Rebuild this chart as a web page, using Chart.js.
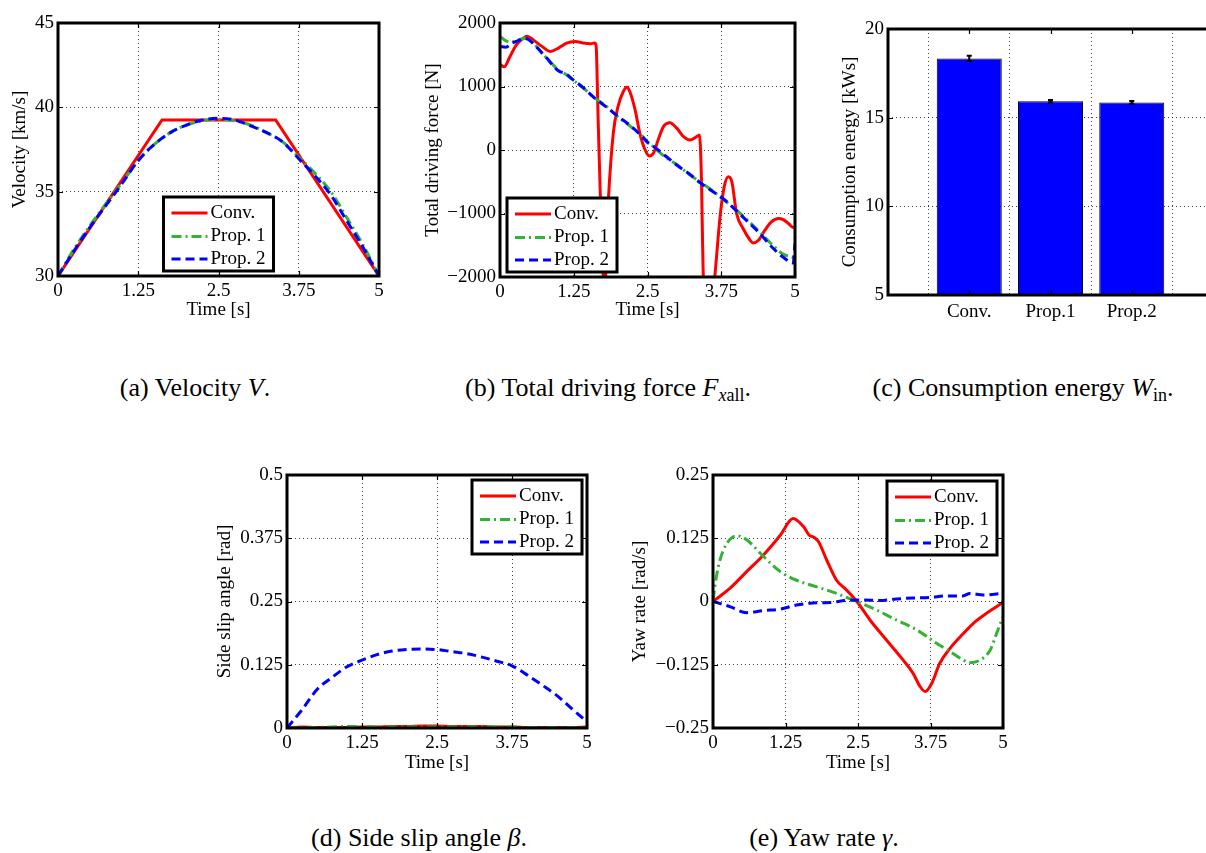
<!DOCTYPE html>
<html>
<head>
<meta charset="utf-8">
<script src="https://cdn.jsdelivr.net/npm/chart.js@4.4.1/dist/chart.umd.min.js"></script>
<style>
  html, body { margin: 0; padding: 0; width: 1206px; height: 853px; overflow: hidden; background: #fff; }
  canvas { position: absolute; }
  .cap { position: absolute; font-family: "Liberation Serif", serif; font-size: 26px; color: #000;
         white-space: nowrap; transform: translate(-50%, -50%); line-height: 1; }
  .cap sub { font-size: 18px; vertical-align: -5px; line-height: 0; }
  .cap i { font-style: italic; }
</style>
</head>
<body>
<div class="cap" style="left:195px; top:388px;">(a) Velocity <i>V</i>.</div>
<div class="cap" style="left:608px; top:388px;">(b) Total driving force <i>F</i><sub><i>x</i>all</sub>.</div>
<div class="cap" style="left:1023px; top:388px;">(c) Consumption energy <i>W</i><sub>in</sub>.</div>
<div class="cap" style="left:419px; top:838px;">(d) Side slip angle <i>β</i>.</div>
<div class="cap" style="left:824px; top:838px;">(e) Yaw rate <i>γ</i>.</div>

<script>
// ---------- shared ----------
const timeTicks = [0, 1.25, 2.5, 3.75, 5];
const seriesNames = ['Conv.', 'Prop. 1', 'Prop. 2'];

// ---------- (a) velocity ----------
const velTicks = [30, 35, 40, 45];
const velTimeConv = [0, 1.62, 3.39, 5];
const velConv = [30, 39.25, 39.25, 30];
const velTimeProp = [0, 0.25, 0.5, 0.75, 1, 1.25, 1.5, 1.75, 2, 2.25, 2.5, 2.75, 3, 3.25, 3.5, 3.75, 4, 4.25, 4.5, 4.75, 5];
const velProp1 = [30, 31.6, 33.0, 34.3, 35.55, 36.85, 37.8, 38.5, 38.95, 39.2, 39.3, 39.2, 38.95, 38.5, 37.95, 37.05, 36.1, 35.0, 33.45, 31.85, 30.0];
const velProp2 = [30, 31.5, 32.9, 34.2, 35.5, 36.85, 37.8, 38.5, 38.95, 39.25, 39.35, 39.25, 38.9, 38.5, 37.95, 36.95, 35.95, 34.8, 33.25, 31.7, 30.0];

// ---------- (b) total driving force ----------
const forceTicks = [-2000, -1000, 0, 1000, 2000];
const forceTimeConv = [0, 0.07, 0.17, 0.28, 0.4, 0.46, 0.56, 0.71, 0.85, 0.99, 1.13, 1.27, 1.41, 1.53, 1.61, 1.63, 1.66, 1.7, 1.77, 1.84,
  1.92, 2.0, 2.09, 2.15, 2.2, 2.29, 2.37, 2.46, 2.53, 2.6, 2.68, 2.77, 2.88, 3.0, 3.11, 3.22, 3.35, 3.38, 3.41, 3.45,
  3.55, 3.64, 3.73, 3.8, 3.87, 3.93, 4.01, 4.12, 4.24, 4.29, 4.38, 4.49, 4.6, 4.72, 4.8, 4.89, 4.97, 5.0];
const forceConv = [1350, 1310, 1474, 1658, 1763, 1790, 1737, 1632, 1553, 1605, 1684, 1710, 1684, 1674, 1684, 1632, 600, -700, -2200, -737,
  263, 684, 921, 990, 921, 632, 263, 0, -95, -53, 158, 368, 430, 340, 210, 158, 220, 237, -300, -2100,
  -2700, -2000, -1050, -580, -421, -500, -1000, -1237, -1421, -1463, -1421, -1263, -1132, -1079, -1095, -1158, -1221, -1221];
const forceTimeProp = [0, 0.1, 0.2, 0.3, 0.42, 0.5, 0.6, 0.7, 0.8, 0.9, 1.0, 1.1, 1.24, 1.4, 1.6, 1.8, 2.0, 2.2, 2.4, 2.5,
  2.6, 2.8, 3.0, 3.2, 3.4, 3.6, 3.8, 4.0, 4.2, 4.4, 4.6, 4.8, 4.97, 5.0];
const forceProp1 = [1790, 1720, 1700, 1730, 1755, 1735, 1650, 1545, 1435, 1340, 1250, 1200, 1100, 985, 825, 690, 520, 380, 230, 130,
  50, -110, -230, -380, -510, -640, -790, -940, -1110, -1290, -1480, -1640, -1690, -1700];
const forceProp2 = [1632, 1620, 1680, 1720, 1760, 1730, 1640, 1540, 1440, 1330, 1240, 1210, 1105, 990, 820, 680, 530, 390, 220, 120,
  60, -90, -240, -370, -520, -650, -780, -950, -1130, -1310, -1520, -1690, -1780, -1470];

// ---------- (c) consumption energy ----------
const energyCats = ['Conv.', 'Prop.1', 'Prop.2'];
const energyVals = [18.34, 15.92, 15.86];
const energyErr = [0.15, 0.07, 0.08];
const energyTicks = [5, 10, 15, 20];

// ---------- (d) side slip angle ----------
const slipTicks = [0, 0.125, 0.25, 0.375, 0.5];
const slipTime = [0, 0.25, 0.5, 0.75, 1.0, 1.25, 1.5, 1.75, 2.0, 2.25, 2.5, 2.75, 3.0, 3.25, 3.5, 3.75, 4.0, 4.25, 4.5, 4.75, 5.0];
const slipConv = [0, 0.002, 0.001, 0.001, 0.001, 0.002, 0.002, 0.003, 0.003, 0.004, 0.004, 0.003, 0.003, 0.003, 0.002, 0.002, 0.001, 0.001, 0.001, 0.001, 0.002];
const slipProp1 = [0, 0.001, 0.001, 0.002, 0.003, 0.003, 0.002, 0.002, 0.002, 0.002, 0.002, 0.002, 0.002, 0.002, 0.002, 0.002, 0.001, 0.001, 0.001, 0.001, 0.001];
const slipProp2 = [0, 0.036, 0.076, 0.1, 0.121, 0.134, 0.145, 0.152, 0.155, 0.156, 0.155, 0.151, 0.147, 0.14, 0.132, 0.123, 0.105, 0.085, 0.064, 0.038, 0.012];

// ---------- (e) yaw rate ----------
const yawTicks = [-0.25, -0.125, 0, 0.125, 0.25];
const yawTimeConv = [0, 0.29, 0.58, 0.87, 1.16, 1.38, 1.56, 1.66, 1.74, 1.82, 1.96, 2.13, 2.3, 2.48, 2.71, 2.99, 3.28, 3.45, 3.57, 3.66,
  3.77, 3.91, 4.09, 4.26, 4.49, 4.72, 5.0];
const yawConv = [0, 0.026, 0.059, 0.092, 0.131, 0.164, 0.148, 0.131, 0.127, 0.118, 0.082, 0.042, 0.023, 0, -0.037, -0.076, -0.116, -0.142, -0.168, -0.178,
  -0.162, -0.122, -0.092, -0.07, -0.043, -0.023, -0.002];
const yawTimeProp1 = [0, 0.06, 0.12, 0.24, 0.41, 0.58, 0.87, 1.16, 1.44, 1.79, 2.13, 2.48, 2.82, 3.17, 3.51, 3.86, 4.09, 4.32, 4.43, 4.6,
  4.78, 4.89, 5.0];
const yawProp1 = [0.002, 0.05, 0.082, 0.115, 0.13, 0.122, 0.089, 0.059, 0.042, 0.029, 0.016, 0, -0.017, -0.037, -0.056, -0.083, -0.099, -0.116, -0.121, -0.116,
  -0.096, -0.063, -0.03];
const yawTimeProp2 = [0, 0.29, 0.58, 0.87, 1.16, 1.44, 1.72, 2.01, 2.3, 2.59, 2.87, 3.16, 3.45, 3.74, 4.03, 4.31, 4.43, 4.66, 5.0];
const yawProp2 = [0, -0.01, -0.022, -0.018, -0.015, -0.007, -0.003, -0.002, 0.002, 0.003, 0.002, 0.005, 0.007, 0.008, 0.011, 0.011, 0.016, 0.013, 0.016];

// ---------- styling ----------
const FONT = { family: '"Liberation Serif", serif', size: 19 };
const GRID = 'rgba(0,0,0,0.75)';
const STYLES = [
  { color: '#ff0000', dash: [] },
  { color: '#33b333', dash: [10, 4, 2, 4] },
  { color: '#0000ff', dash: [9, 5] }
];

function fmt(v) { return String(v).replace('-', '\u2212'); }
function pts(t, v) { return t.map((x, i) => ({ x: x, y: v[i] })); }

function geometry(g) {
  const left = g.yTitleX - 20;
  const top = g.top;
  const width = g.R + 12 - left;
  const height = Math.round(g.xTitleY ? g.xTitleY + 11.4 : g.B + g.xh) - top;
  return { left, top, width, height, yW: g.L - left, xH: height - (g.B - top), padTop: g.T - top };
}

function makeCanvas(geo) {
  const c = document.createElement('canvas');
  c.width = geo.width; c.height = geo.height;
  c.style.left = geo.left + 'px'; c.style.top = geo.top + 'px';
  c.style.width = geo.width + 'px'; c.style.height = geo.height + 'px';
  document.body.appendChild(c);
  return c;
}

// box around the axes with small inward tick marks
const framePlugin = {
  id: 'frame',
  afterDatasetsDraw(chart) {
    const { ctx, chartArea: a, scales } = chart;
    ctx.save();
    ctx.strokeStyle = '#000';
    ctx.setLineDash([]);
    ctx.lineWidth = 1.2;
    const tl = 5;
    ctx.beginPath();
    scales.x.ticks.forEach(t => {
      const p = Math.round(scales.x.getPixelForValue(t.value)) + 0.5;
      ctx.moveTo(p, a.bottom); ctx.lineTo(p, a.bottom - tl);
      ctx.moveTo(p, a.top); ctx.lineTo(p, a.top + tl);
    });
    scales.y.ticks.forEach(t => {
      const p = Math.round(scales.y.getPixelForValue(t.value)) + 0.5;
      ctx.moveTo(a.left, p); ctx.lineTo(a.left + tl, p);
      ctx.moveTo(a.right, p); ctx.lineTo(a.right - tl, p);
    });
    ctx.stroke();
    ctx.lineWidth = 3;
    ctx.strokeRect(a.left, a.top, a.right - a.left, a.bottom - a.top);
    ctx.restore();
  }
};

// framed legend placed inside the plot area
const boxLegendPlugin = {
  id: 'boxLegend',
  afterDraw(chart, args, opts) {
    if (!opts || !opts.anchor) return;
    const { ctx, chartArea: a } = chart;
    const w = 110, h = 74;
    let x, y;
    if (opts.anchor === 'bottom-center') { x = (a.left + a.right) / 2 - w / 2; y = a.bottom - opts.dy - h; }
    else if (opts.anchor === 'bottom-left') { x = a.left + opts.dx; y = a.bottom - opts.dy - h; }
    else { x = a.right - opts.dx - w; y = a.top + opts.dy; }
    ctx.save();
    ctx.fillStyle = '#fff';
    ctx.fillRect(x, y, w, h);
    ctx.lineWidth = 3;
    ctx.strokeStyle = '#000';
    ctx.setLineDash([]);
    ctx.strokeRect(x, y, w, h);
    const rows = [16, 39.5, 62];
    chart.data.datasets.forEach((ds, i) => {
      const ry = y + rows[i];
      ctx.beginPath();
      ctx.strokeStyle = ds.borderColor;
      ctx.lineWidth = ds.borderWidth;
      ctx.setLineDash(ds.borderDash || []);
      ctx.moveTo(x + 8, ry); ctx.lineTo(x + 44, ry);
      ctx.stroke();
      ctx.setLineDash([]);
      ctx.fillStyle = '#000';
      ctx.font = FONT.size + 'px ' + FONT.family;
      ctx.textBaseline = 'middle';
      ctx.textAlign = 'left';
      ctx.fillText(ds.label, x + 47, ry);
    });
    ctx.restore();
  }
};

function axisBase() {
  return {
    grid: { color: GRID, lineWidth: 1, drawTicks: false },
    border: { display: false, dash: [1, 3] },
    ticks: { font: FONT, color: '#000', padding: 4, autoSkip: false, maxRotation: 0, callback: v => fmt(v) }
  };
}

function makeLinePanel(g, cfg) {
  const geo = geometry(g);
  const canvas = makeCanvas(geo);
  const datasets = cfg.series.map((s, i) => ({
    label: seriesNames[i],
    data: pts(s.t, s.v),
    borderColor: STYLES[i].color,
    borderDash: STYLES[i].dash,
    borderWidth: 3,
    pointRadius: 0,
    fill: false,
    tension: 0,
    cubicInterpolationMode: s.smooth ? 'monotone' : 'default',
    order: 3 - i
  }));
  const xb = axisBase(), yb = axisBase();
  return new Chart(canvas, {
    type: 'line',
    data: { datasets },
    plugins: [framePlugin, boxLegendPlugin],
    options: {
      responsive: false, animation: false, devicePixelRatio: 1,
      layout: { padding: { top: geo.padTop, right: 12, bottom: 0, left: 0 } },
      plugins: { legend: { display: false }, tooltip: { enabled: false }, boxLegend: cfg.legend },
      scales: {
        x: Object.assign(xb, {
          type: 'linear', min: 0, max: 5,
          afterBuildTicks: s => { s.ticks = timeTicks.map(v => ({ value: v })); },
          afterFit: s => { s.height = geo.xH; },
          title: { display: true, text: 'Time [s]', font: FONT, color: '#000', padding: { top: 0, bottom: 0 } }
        }),
        y: Object.assign(yb, {
          type: 'linear', min: cfg.yTicks[0], max: cfg.yTicks[cfg.yTicks.length - 1],
          afterBuildTicks: s => { s.ticks = cfg.yTicks.map(v => ({ value: v })); },
          afterFit: s => { s.width = geo.yW; },
          title: { display: true, text: cfg.yTitle, font: FONT, color: '#000', padding: { top: 8.6, bottom: 0 } }
        })
      }
    }
  });
}

// (a)
makeLinePanel({ L: 58, T: 23, R: 379, B: 276, yTitleX: 20, xTitleY: 310, top: 0 }, {
  yTicks: velTicks, yTitle: 'Velocity [km/s]',
  series: [
    { t: velTimeConv, v: velConv, smooth: false },
    { t: velTimeProp, v: velProp1, smooth: true },
    { t: velTimeProp, v: velProp2, smooth: true }
  ],
  legend: { anchor: 'bottom-center', dy: 5 }
});

// (b)
makeLinePanel({ L: 500, T: 23, R: 795, B: 277, yTitleX: 433, xTitleY: 310, top: 0 }, {
  yTicks: forceTicks, yTitle: 'Total driving force [N]',
  series: [
    { t: forceTimeConv, v: forceConv, smooth: true },
    { t: forceTimeProp, v: forceProp1, smooth: true },
    { t: forceTimeProp, v: forceProp2, smooth: true }
  ],
  legend: { anchor: 'bottom-left', dx: 7, dy: 5 }
});

// (d)
makeLinePanel({ L: 287, T: 475, R: 587, B: 728, yTitleX: 225, xTitleY: 763, top: 450 }, {
  yTicks: slipTicks, yTitle: 'Side slip angle [rad]',
  series: [
    { t: slipTime, v: slipConv, smooth: true },
    { t: slipTime, v: slipProp1, smooth: true },
    { t: slipTime, v: slipProp2, smooth: true }
  ],
  legend: { anchor: 'top-right', dx: 5, dy: 5 }
});

// (e)
makeLinePanel({ L: 713, T: 475, R: 1003, B: 728, yTitleX: 640, xTitleY: 763, top: 450 }, {
  yTicks: yawTicks, yTitle: 'Yaw rate [rad/s]',
  series: [
    { t: yawTimeConv, v: yawConv, smooth: true },
    { t: yawTimeProp1, v: yawProp1, smooth: true },
    { t: yawTimeProp2, v: yawProp2, smooth: true }
  ],
  legend: { anchor: 'top-right', dx: 6, dy: 6 }
});

// (c) bar chart with small error bars
const errorBarPlugin = {
  id: 'errorBars',
  afterDatasetsDraw(chart) {
    const { ctx, scales: { x, y } } = chart;
    ctx.save();
    ctx.strokeStyle = '#000';
    ctx.lineWidth = 2;
    energyVals.forEach((v, i) => {
      const px = x.getPixelForValue(i + 1);
      const y1 = y.getPixelForValue(v + energyErr[i]);
      const y2 = y.getPixelForValue(v - energyErr[i]);
      ctx.beginPath();
      ctx.moveTo(px, y1); ctx.lineTo(px, y2);
      ctx.moveTo(px - 2.5, y1); ctx.lineTo(px + 2.5, y1);
      ctx.moveTo(px - 2.5, y2); ctx.lineTo(px + 2.5, y2);
      ctx.stroke();
    });
    ctx.restore();
  }
};

(function () {
  const g = { L: 888, T: 29, R: 1213, B: 295, yTitleX: 850, xh: 30, top: 0 };
  const geo = geometry(g);
  const canvas = makeCanvas(geo);
  const xb = axisBase(), yb = axisBase();
  new Chart(canvas, {
    type: 'bar',
    data: {
      datasets: [{
        data: energyVals.map((v, i) => ({ x: i + 1, y: v })),
        backgroundColor: '#0000ff',
        borderColor: '#000',
        borderWidth: 1,
        borderSkipped: 'start',
        barPercentage: 0.8,
        categoryPercentage: 1,
        clip: 0
      }]
    },
    plugins: [framePlugin, errorBarPlugin],
    options: {
      responsive: false, animation: false, devicePixelRatio: 1,
      layout: { padding: { top: geo.padTop, right: 12, bottom: 0, left: 0 } },
      plugins: { legend: { display: false }, tooltip: { enabled: false } },
      scales: {
        x: Object.assign(xb, {
          type: 'linear', min: 0, max: 4, offset: false,
          afterBuildTicks: s => { s.ticks = energyCats.map((c, i) => ({ value: i + 1 })); },
          afterFit: s => { s.height = geo.xH; },
          ticks: Object.assign(xb.ticks, { padding: 6, callback: (v) => energyCats[v - 1] })
        }),
        y: Object.assign(yb, {
          type: 'linear', min: 5, max: 20,
          afterBuildTicks: s => { s.ticks = energyTicks.map(v => ({ value: v })); },
          afterFit: s => { s.width = geo.yW; },
          title: { display: true, text: 'Consumption energy [kWs]', font: FONT, color: '#000', padding: { top: 8.6, bottom: 0 } }
        })
      }
    }
  });
})();
</script>
</body>
</html>
